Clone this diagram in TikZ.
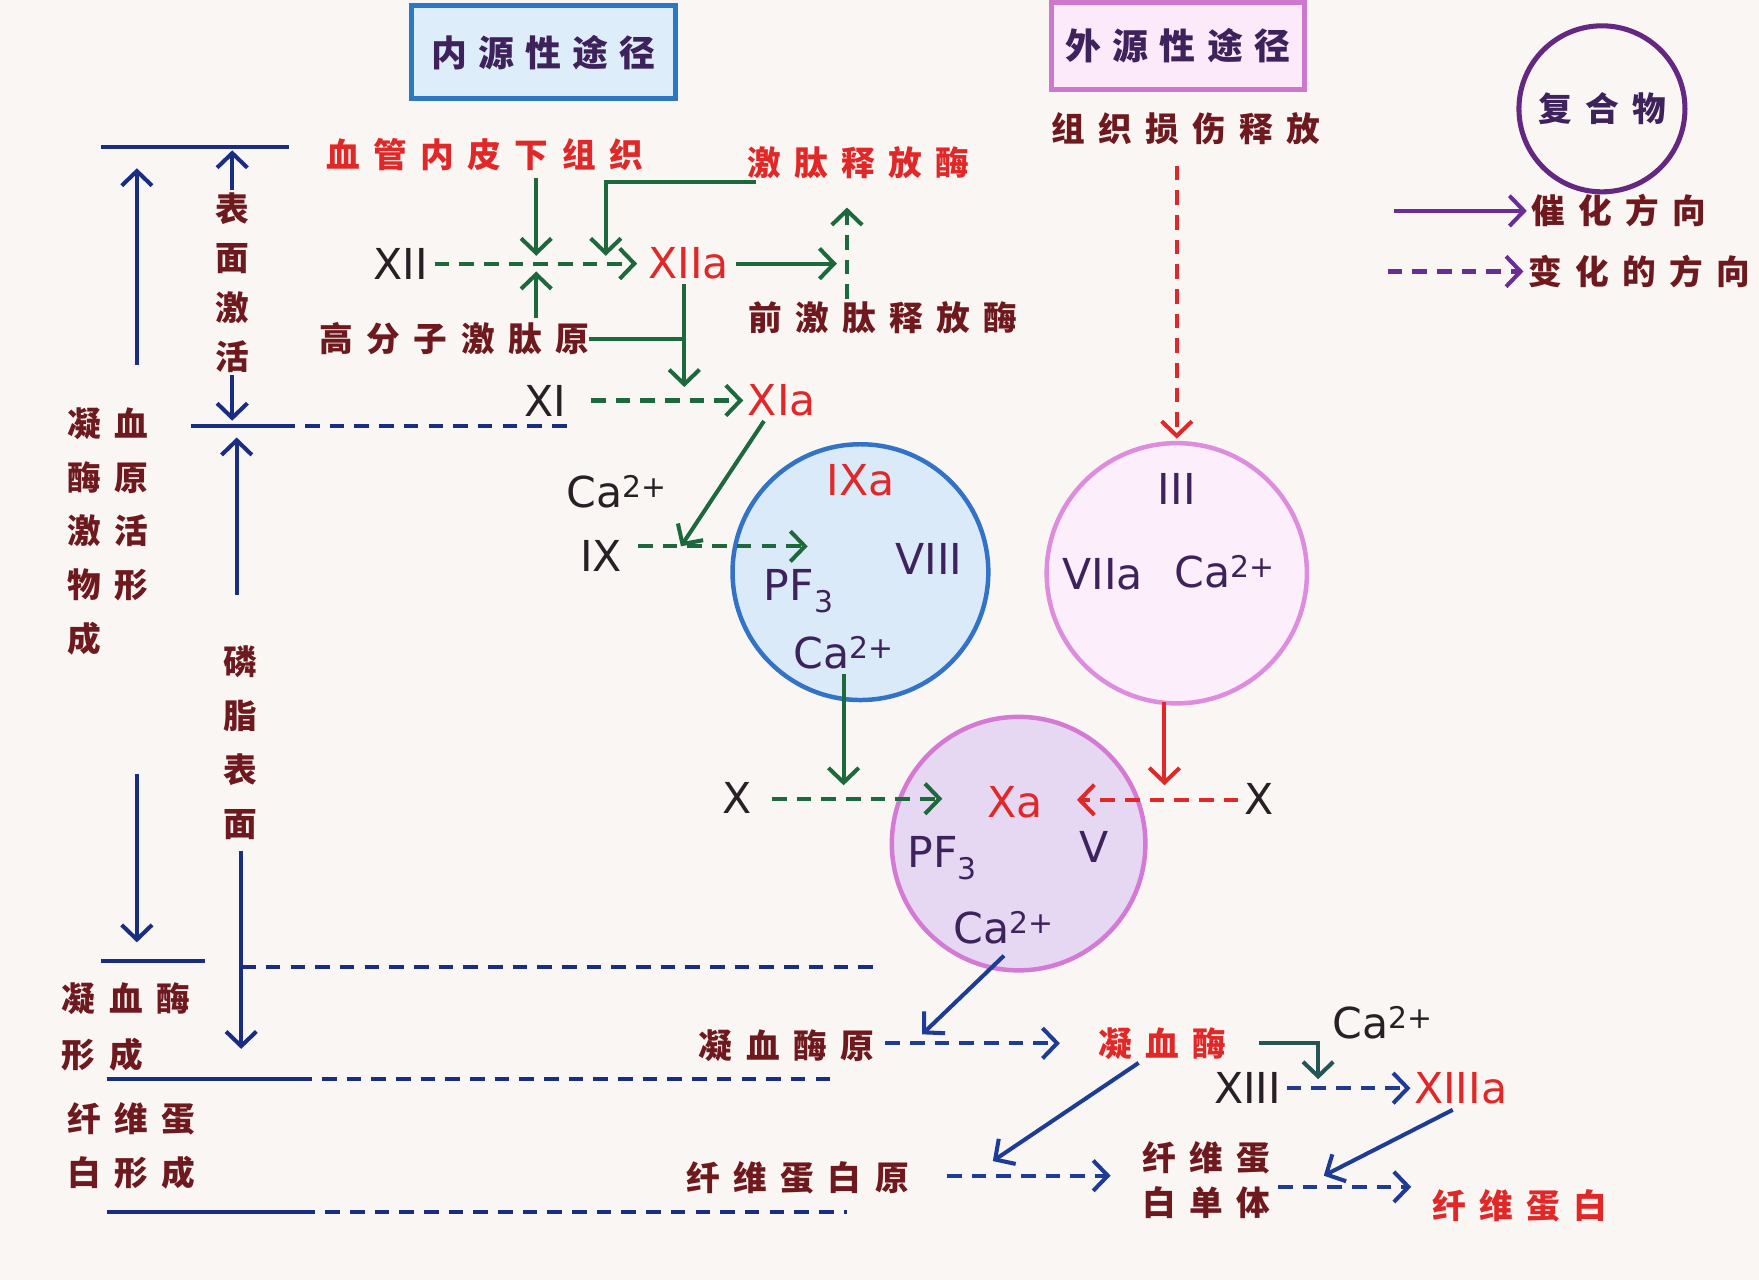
\documentclass[tikz,border=0pt]{standalone}
\usepackage{fontspec}
\setmainfont{DejaVu Sans}
\newfontfamily\cjk{Noto Sans CJK SC}
\usetikzlibrary{arrows.meta}
\makeatletter
\newcommand\LS[2][12pt]{\@tfor\lsch:=#2\do{\lsch\hskip #1\relax}\unskip}
\makeatother
\definecolor{bg}{RGB}{250,246,243}
\definecolor{grn}{RGB}{30,105,60}
\definecolor{nav}{RGB}{25,45,130}
\definecolor{blu}{RGB}{30,60,150}
\definecolor{tealc}{RGB}{35,85,85}
\definecolor{rd}{RGB}{225,40,40}
\definecolor{mar}{RGB}{110,25,30}
\definecolor{ink}{RGB}{40,32,36}
\definecolor{pur}{RGB}{62,34,92}
\definecolor{boxb}{RGB}{45,120,195}
\definecolor{boxbf}{RGB}{222,237,250}
\definecolor{boxp}{RGB}{205,120,205}
\definecolor{boxpf}{RGB}{252,234,250}
\definecolor{cAd}{RGB}{50,115,200}
\definecolor{cAf}{RGB}{218,234,248}
\definecolor{cBd}{RGB}{222,140,222}
\definecolor{cBf}{RGB}{252,238,250}
\definecolor{cCd}{RGB}{212,122,212}
\definecolor{cCf}{RGB}{230,215,243}
\definecolor{leg}{RGB}{105,45,150}
\definecolor{legc}{RGB}{100,40,130}
\begin{document}
\begin{tikzpicture}[x=1pt,y=-1pt,
  zh/.style={font=\cjk\bfseries\fontsize{30}{48}\selectfont, inner sep=0pt, text=mar},
  zhr/.style={zh, text=rd},
  la/.style={font=\fontsize{38}{44}\selectfont, inner sep=0pt, text=ink},
  lp/.style={la, text=pur},
  lr/.style={la, text=rd},
  tipa/.style={-{Straight Barb[length=13pt,width=27pt]}},
  dsh/.style={dash pattern=on 13pt off 9pt},
  cg/.style={draw=grn, line width=3.6pt},
  cn/.style={draw=nav, line width=3.6pt},
  cb/.style={draw=blu, line width=3.6pt},
  cr/.style={draw=rd, line width=3.6pt},
  ct/.style={draw=tealc, line width=3.6pt},
  cl/.style={draw=leg, line width=3.6pt},
  bigc/.style={circle, line width=4pt, minimum size=228pt, inner sep=0pt}
]
\fill[bg] (0,0) rectangle (1568,1141);
\useasboundingbox (0,0) rectangle (1568,1141);

% ---------- title boxes and legend ----------
\node[draw=boxb, fill=boxbf, line width=4.5pt, minimum width=235pt, minimum height=83pt,
      zh, text=pur, font=\cjk\bfseries\fontsize{32}{40}\selectfont] (intr) at (484.5,46.5) {\LS[10pt]{内源性途径}};
\node[draw=boxp, fill=boxpf, line width=4.5pt, minimum width=226pt, minimum height=78pt,
      zh, text=pur, font=\cjk\bfseries\fontsize{32}{40}\selectfont] (extr) at (1050,41) {\LS[10pt]{外源性途径}};
\node[zh] (tis) at (1057,115) {\LS{组织损伤释放}};
\node[circle, draw=legc, line width=4.5pt, minimum size=148pt, zh, text=pur] (cpx) at (1428,97) {\LS{复合物}};
\node[zh, anchor=west] (lt1) at (1365,188) {\LS{催化方向}};
\node[zh, anchor=west] (lt2) at (1362,242) {\LS{变化的方向}};
\coordinate (lg1) at (1243,188);
\coordinate (lg2) at (1237,242);
\draw[cl, tipa] (lg1) -- ([xshift=-4pt]lt1.west);
\draw[cl, dsh, tipa] (lg2) -- ([xshift=-4pt]lt2.west);

% ---------- circles ----------
\node[bigc, draw=cAd, fill=cAf] (c1) at (767,510) {};
\node[bigc, draw=cBd, fill=cBf, minimum size=232pt] (c2) at (1049,511) {};
\node[bigc, draw=cCd, fill=cCf, minimum size=226pt] (c3) at (908,752) {};

% ---------- intrinsic texts ----------
\node[zhr] (sub) at (432,138) {\LS{血管内皮下组织}};
\node[zhr] (kal) at (765,145) {\LS{激肽释放酶}};
\node[zh] (pk) at (787,283) {\LS{前激肽释放酶}};
\node[zh] (hmk) at (405,302) {\LS{高分子激肽原}};
\node[la] (XII) at (357,235) {XII};
\node[lr] (XIIa) at (614,235) {XIIa};
\node[la] (XI) at (486,357) {XI};
\node[lr] (XIa) at (697,357) {XIa};
\node[la] (caA) at (550,438) {Ca\textsuperscript{2+}};
\node[la] (IX) at (536,496) {IX};
\node[lr] (IXa) at (767,428) {IXa};
\node[lp] (VIII) at (828,498) {VIII};
\node[lp] (pfA) at (712,527) {PF\textsubscript{3}};
\node[lp] (ca1) at (752,582) {Ca\textsuperscript{2+}};
\node[la] (Xl) at (657,711) {X};

% ---------- extrinsic texts ----------
\node[lp] (III) at (1049,436) {III};
\node[lp] (VIIa) at (983,512) {VIIa};
\node[lp] (ca2) at (1092,510) {Ca\textsuperscript{2+}};
\node[la] (Xr) at (1122,712) {X};

% ---------- Xa complex ----------
\node[lr] (Xa) at (905,715) {Xa};
\node[lp] (pfB) at (840,765) {PF\textsubscript{3}};
\node[lp] (V) at (975,755) {V};
\node[lp] (ca3) at (895,827) {Ca\textsuperscript{2+}};

% ---------- bottom texts ----------
\node[zh] (pro) at (701,932) {\LS{凝血酶原}};
\node[zhr] (thr) at (1036,930) {\LS{凝血酶}};
\node[la] (caB) at (1233,912) {Ca\textsuperscript{2+}};
\node[la] (XIII) at (1112,970) {XIII};
\node[lr] (XIIIa) at (1302,970) {XIIIa};
\node[zh] (fgn) at (711,1050) {\LS{纤维蛋白原}};
\node[zh, align=center, font=\cjk\bfseries\fontsize{30}{40}\selectfont] (mono) at (1075,1052) {\LS{纤维蛋}\\\LS{白单体}};
\node[zhr] (fib) at (1355,1075) {\LS{纤维蛋白}};

% ---------- left texts ----------
\node[zh, align=left, anchor=north west] (L1) at (60,363) {\LS{凝血}\\\LS{酶原}\\\LS{激活}\\\LS{物形}\\\LS{成}};
\node[zh, align=left, anchor=north west, font=\cjk\bfseries\fontsize{30}{50}\selectfont] (L2) at (55,876) {\LS{凝血酶}\\\LS{形成}};
\node[zh, align=left, anchor=north west] (L3) at (60,983) {\LS{纤维蛋}\\\LS{白形成}};
\node[zh, align=center, font=\cjk\bfseries\fontsize{30}{44}\selectfont] (surf) at (207,252) {表\\面\\激\\活};
\node[zh, align=center] (phos) at (214,662) {磷\\脂\\表\\面};

% ---------- left bracket lines ----------
\coordinate (h1a) at (90,131);   \coordinate (h1b) at (258,131);
\coordinate (h2a) at (170,380);  \coordinate (h2b) at (250,380);  \coordinate (h2c) at (505,380);
\coordinate (h3a) at (90,857);   \coordinate (h3b) at (183,857);
\coordinate (h3c) at (215,862);  \coordinate (h3d) at (780,862);
\coordinate (h4a) at (95,962);   \coordinate (h4b) at (265,962);  \coordinate (h4c) at (740,962);
\coordinate (h5a) at (95,1080);  \coordinate (h5b) at (268,1080); \coordinate (h5c) at (755,1080);
\draw[cn] (h1a) -- (h1b);
\draw[cn] (h2a) -- (h2b);  \draw[cn, dsh] (h2b) -- (h2c);
\draw[cn] (h3a) -- (h3b);  \draw[cn, dsh] (h3c) -- (h3d);
\draw[cn] (h4a) -- (h4b);  \draw[cn, dsh] (h4b) -- (h4c);
\draw[cn] (h5a) -- (h5b);  \draw[cn, dsh] (h5b) -- (h5c);

\coordinate (a1s) at (122,325);  \coordinate (a1e) at (122,150);
\draw[cn, tipa] (a1s) -- (a1e);
\coordinate (s1) at (207,134);   \coordinate (s2) at (207,375);
\draw[cn, tipa] ([yshift=2pt]surf.north) -- (s1);
\draw[cn, tipa] ([yshift=-2pt]surf.south) -- (s2);
\coordinate (a2s) at (211,530);  \coordinate (a2e) at (211,390);
\draw[cn, tipa] (a2s) -- (a2e);
\coordinate (a3e) at (215,935);
\draw[cn, tipa] ([xshift=1pt,yshift=-10pt]phos.south) -- (a3e);
\coordinate (a4s) at (122,690);  \coordinate (a4e) at (122,840);
\draw[cn, tipa] (a4s) -- (a4e);

% ---------- green connectors ----------
\coordinate (j1) at (478,235);
\coordinate (j1a) at (478,228);  \coordinate (j1b) at (478,242);
\draw[cg, dsh, tipa] ([xshift=6pt]XII.east) -- ([xshift=-10pt]XIIa.west);
\draw[cg, tipa] ([yshift=-6pt]sub.south -| j1) -- (j1a);
\draw[cg, tipa] ([yshift=4pt]hmk.north -| j1) -- (j1b);
\coordinate (j2) at (540,228);
\draw[cg, tipa] ([xshift=8pt,yshift=-3pt]kal.south west) -| (j2);
\coordinate (j3) at (746,235);   \coordinate (j3t) at (755,185);
\draw[cg, tipa] ([xshift=6pt]XIIa.east) -- (j3);
\draw[cg, dsh, tipa] ([yshift=2pt]pk.north -| j3t) -- (j3t);
\coordinate (j8) at (610,345);
\draw[cg, tipa] ([yshift=-4pt]XIIa.south -| j8) -- (j8);
\draw[cg] (hmk.east) -- (hmk.east -| j8);
\draw[cg, dsh, tipa] ([xshift=22pt]XI.east) -- ([xshift=-4pt]XIa.west);
\coordinate (j4) at (607,487);
\draw[cg, tipa] ([xshift=-16pt,yshift=-4pt]XIa.south) -- (j4);
\coordinate (j9) at (720,487);
\draw[cg, dsh, tipa] ([xshift=14pt]IX.east |- j9) -- (j9);
\coordinate (j5) at (752,700);
\draw[cg, tipa] ([yshift=-4pt]ca1.south -| j5) -- (j5);
\coordinate (j10) at (840,712);
\draw[cg, dsh, tipa] ([xshift=18pt]Xl.east |- j10) -- (j10);

% ---------- red connectors ----------
\draw[cr, dsh, tipa] ([yshift=-18pt]tis.south -| c2.north) -- ([yshift=2pt]c2.north);
\coordinate (j6) at (1038,700);
\draw[cr, tipa] ([yshift=3pt]c2.south -| j6) -- (j6);
\coordinate (j11) at (960,713);
\draw[cr, dsh, tipa] ([xshift=-5pt]Xr.west |- j11) -- (j11);

% ---------- blue connectors ----------
\coordinate (j12) at (822,922);
\draw[cb, tipa] ([yshift=-10pt]ca3.south) -- (j12);
\draw[cb, dsh, tipa] ([xshift=10pt]pro.east |- thr.west) -- ([xshift=-34pt]thr.west);
\coordinate (j13) at (1175,962);
\draw[ct, tipa] ([xshift=29pt]thr.east) -| (j13);
\draw[cb, dsh, tipa] ([xshift=5pt]XIII.east) -- ([xshift=-3pt]XIIIa.west);
\coordinate (j14) at (885,1035);
\draw[cb, tipa] ([xshift=-21pt,yshift=-3pt]thr.south) -- (j14);
\coordinate (j15) at (990,1048);
\draw[cb, dsh, tipa] ([xshift=34pt]fgn.east |- j15) -- (j15);
\coordinate (j16) at (1180,1048);
\draw[cb, tipa] ([xshift=-7pt,yshift=-5pt]XIIIa.south) -- (j16);
\coordinate (j17) at (1258,1058);
\draw[cb, dsh, tipa] ([xshift=7pt]mono.east |- j17) -- (j17);
\end{tikzpicture}
\end{document}
